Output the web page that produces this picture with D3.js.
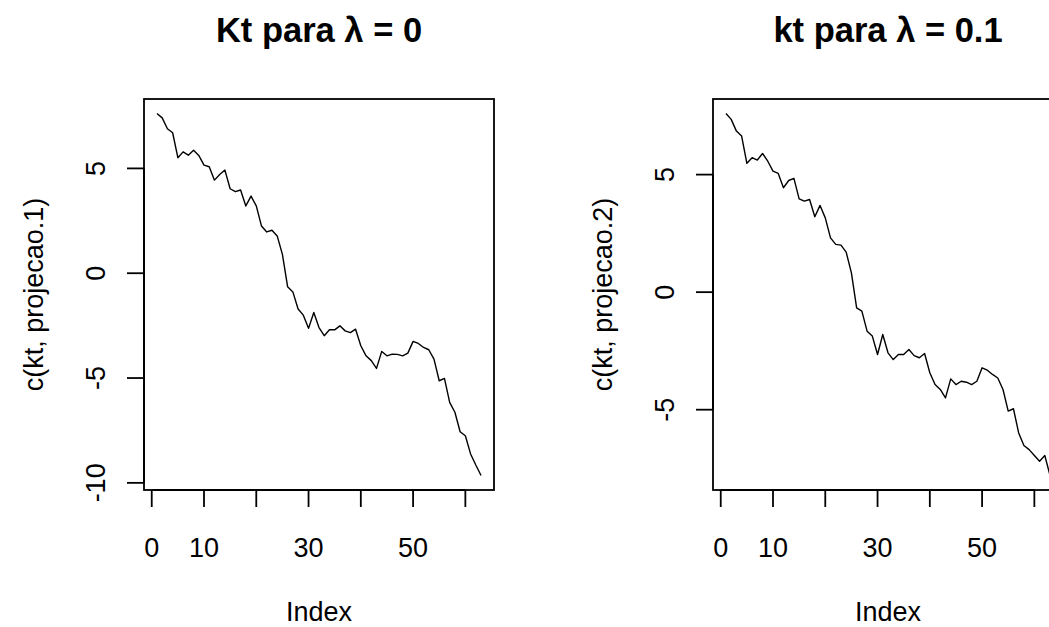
<!DOCTYPE html>
<html>
<head>
<meta charset="utf-8">
<script src="https://cdn.jsdelivr.net/npm/d3@7.9.0/dist/d3.min.js"></script>
<style>
  html, body { margin: 0; padding: 0; background: #fff; }
  svg { display: block; font-family: "Liberation Sans", Arial, sans-serif; }
</style>
</head>
<body>
<svg id="chart" width="1049" height="627"></svg>
<script>
// kt series with projection appended, lambda = 0
const projecao1 = [
  7.62, 7.41, 6.89, 6.70, 5.51, 5.79, 5.63, 5.87, 5.62, 5.16,
  5.08, 4.44, 4.71, 4.92, 4.03, 3.89, 3.97, 3.21, 3.68, 3.21,
  2.25, 1.97, 2.05, 1.78, 0.90, -0.65, -0.89, -1.71, -2.00, -2.63,
  -1.87, -2.59, -2.98, -2.70, -2.70, -2.51, -2.75, -2.83, -2.67, -3.46,
  -3.94, -4.17, -4.54, -3.73, -3.94, -3.86, -3.87, -3.94, -3.81, -3.25,
  -3.35, -3.54, -3.65, -4.10, -5.13, -5.02, -6.16, -6.63, -7.56, -7.75,
  -8.62, -9.15, -9.65
];

// kt series with projection appended, lambda = 0.1
const projecao2 = [
  7.60, 7.35, 6.85, 6.64, 5.48, 5.72, 5.62, 5.90, 5.57, 5.15,
  5.05, 4.44, 4.75, 4.84, 3.97, 3.87, 3.94, 3.21, 3.69, 3.16,
  2.31, 2.03, 2.00, 1.70, 0.82, -0.67, -0.81, -1.66, -1.87, -2.65,
  -1.80, -2.58, -2.87, -2.65, -2.65, -2.44, -2.70, -2.79, -2.61, -3.43,
  -3.93, -4.14, -4.50, -3.69, -3.93, -3.79, -3.83, -3.93, -3.79, -3.22,
  -3.32, -3.50, -3.65, -4.14, -5.06, -4.96, -5.99, -6.52, -6.70, -6.95,
  -7.19, -6.95, -7.80
];

const titles  = ['Kt para \u03bb = 0', 'kt para \u03bb = 0.1'];
const ylabels = ['c(kt, projecao.1)', 'c(kt, projecao.2)'];
const xTicks  = [0, 10, 20, 30, 40, 50, 60];
const xTickLabels = ['0', '10', '', '30', '', '50', ''];
const yTicks  = [[-10, -5, 0, 5], [-5, 0, 5]];

const svg = d3.select('#chart');
const panelW = 350, panelH = 391;
const panels = [
  { left: 144, top: 99, data: projecao1 },
  { left: 713, top: 99, data: projecao2 },
];

function padDomain(lo, hi) {
  const d = (hi - lo) * 0.04;
  return [lo - d, hi + d];
}

panels.forEach((p, k) => {
  const n = p.data.length;
  const g = svg.append('g').attr('transform', `translate(${p.left},${p.top})`);

  const x = d3.scaleLinear().domain(padDomain(1, n)).range([0, panelW]);
  const y = d3.scaleLinear().domain(padDomain(d3.min(p.data), d3.max(p.data))).range([panelH, 0]);

  // line
  g.append('path')
    .datum(p.data)
    .attr('fill', 'none')
    .attr('stroke', '#000')
    .attr('stroke-width', 1.4)
    .attr('stroke-linejoin', 'round')
    .attr('d', d3.line().x((d, i) => x(i + 1)).y(d => y(d)));

  // box
  g.append('rect')
    .attr('x', 0).attr('y', 0)
    .attr('width', panelW).attr('height', panelH)
    .attr('fill', 'none').attr('stroke', '#000').attr('stroke-width', 1.8);

  // x axis
  const xa = g.append('g').attr('transform', `translate(0,${panelH})`);
  xa.append('line')
    .attr('x1', x(xTicks[0])).attr('x2', x(xTicks[xTicks.length - 1]))
    .attr('stroke', '#000').attr('stroke-width', 1.8);
  xa.selectAll('line.tick').data(xTicks).join('line')
    .attr('class', 'tick')
    .attr('x1', d => x(d)).attr('x2', d => x(d))
    .attr('y1', 0).attr('y2', 17)
    .attr('stroke', '#000').attr('stroke-width', 1.8);
  xa.selectAll('text').data(xTicks).join('text')
    .attr('x', d => x(d)).attr('y', 67)
    .attr('text-anchor', 'middle')
    .attr('font-size', 27)
    .text((d, i) => xTickLabels[i]);

  // y axis
  const yt = yTicks[k];
  const ya = g.append('g');
  ya.append('line')
    .attr('y1', y(yt[0])).attr('y2', y(yt[yt.length - 1]))
    .attr('stroke', '#000').attr('stroke-width', 1.8);
  ya.selectAll('line.tick').data(yt).join('line')
    .attr('class', 'tick')
    .attr('x1', 0).attr('x2', -17)
    .attr('y1', d => y(d)).attr('y2', d => y(d))
    .attr('stroke', '#000').attr('stroke-width', 1.8);
  ya.selectAll('text').data(yt).join('text')
    .attr('transform', d => `translate(-39,${y(d)}) rotate(-90)`)
    .attr('text-anchor', 'middle')
    .attr('font-size', 27)
    .text(d => d3.format('d')(d).replace('\u2212', '-'));

  // labels
  g.append('text')
    .attr('x', panelW / 2).attr('y', 42 - p.top)
    .attr('text-anchor', 'middle')
    .attr('font-size', 34.5).attr('font-weight', 'bold')
    .text(titles[k]);

  g.append('text')
    .attr('x', panelW / 2).attr('y', 621 - p.top)
    .attr('text-anchor', 'middle')
    .attr('font-size', 27)
    .text('Index');

  g.append('text')
    .attr('transform', `translate(${43 - 144},${panelH / 2}) rotate(-90)`)
    .attr('text-anchor', 'middle')
    .attr('font-size', 27)
    .text(ylabels[k]);
});
</script>
</body>
</html>
